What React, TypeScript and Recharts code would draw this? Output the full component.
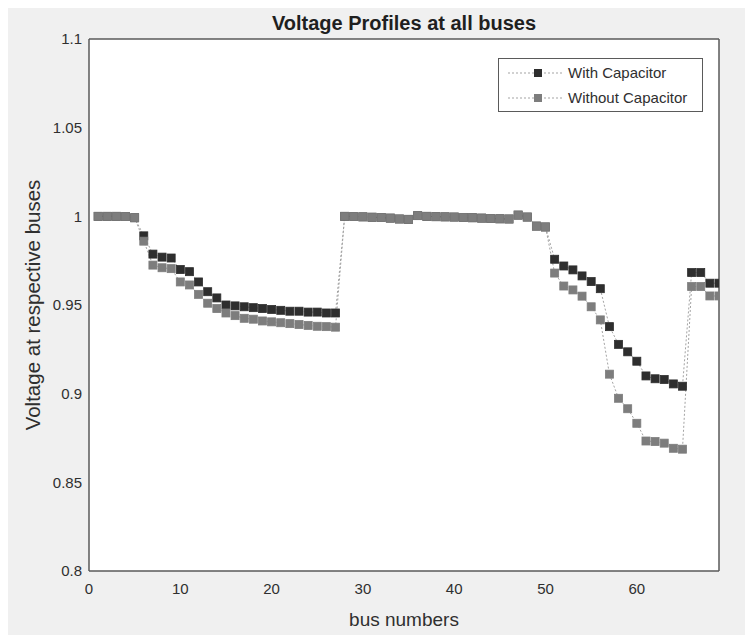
import React from "react";
import { LineChart, Line, XAxis, YAxis, CartesianGrid, Legend } from "recharts";

// bus index of the 69-bus feeder
const busNumbers = [
  1, 2, 3, 4, 5, 6, 7, 8, 9, 10, 11, 12, 13, 14, 15, 16, 17, 18, 19, 20, 21, 22, 23,
  24, 25, 26, 27, 28, 29, 30, 31, 32, 33, 34, 35, 36, 37, 38, 39, 40, 41, 42, 43, 44,
  45, 46, 47, 48, 49, 50, 51, 52, 53, 54, 55, 56, 57, 58, 59, 60, 61, 62, 63, 64, 65,
  66, 67, 68, 69,
];

const withCapacitor = [
  1.0, 1.0, 1.0, 0.9999, 0.9992, 0.989, 0.9787, 0.977, 0.9765, 0.97, 0.9688, 0.963,
  0.9575, 0.954, 0.95, 0.9495, 0.949, 0.9485, 0.948, 0.9475, 0.947, 0.9465, 0.9465,
  0.946, 0.946, 0.9455, 0.9455, 1.0, 0.9999, 0.9997, 0.9995, 0.9993, 0.999, 0.9985,
  0.9983, 1.0004, 1.0, 0.9998, 0.9997, 0.9996, 0.9994, 0.9992, 0.999, 0.9988, 0.9986,
  0.9985, 1.0007, 0.9996, 0.9945, 0.994, 0.9758, 0.972, 0.9698, 0.9664, 0.9632, 0.9592,
  0.9378, 0.9278, 0.9236, 0.9183, 0.91, 0.9084, 0.908, 0.9055, 0.9042, 0.9683, 0.9683,
  0.9623, 0.9623,
];

const withoutCapacitor = [
  1.0, 1.0, 1.0, 0.9999, 0.9992, 0.986, 0.9725, 0.971, 0.9705, 0.963, 0.9613, 0.956,
  0.951, 0.948, 0.9455, 0.944, 0.9425, 0.942, 0.941, 0.9405, 0.94, 0.9395, 0.939,
  0.9385, 0.938, 0.9378, 0.9375, 1.0, 0.9999, 0.9997, 0.9995, 0.9993, 0.999, 0.9985,
  0.9983, 1.0004, 1.0, 0.9998, 0.9997, 0.9996, 0.9994, 0.9992, 0.999, 0.9988, 0.9986,
  0.9985, 1.0007, 0.9996, 0.9945, 0.994, 0.968, 0.9607, 0.9585, 0.955, 0.949, 0.9416,
  0.911, 0.8974, 0.8915, 0.8833, 0.8733, 0.873, 0.8721, 0.8692, 0.8687, 0.9604, 0.9604,
  0.9551, 0.9551,
];

const xTicks = [0, 10, 20, 30, 40, 50, 60];
const yTicks = [0.8, 0.85, 0.9, 0.95, 1, 1.05, 1.1];

const data = busNumbers.map((bus, i) => ({
  bus,
  withCap: withCapacitor[i],
  withoutCap: withoutCapacitor[i],
}));

const FONT = '"Liberation Sans", Arial, Helvetica, sans-serif';
const AXIS = "#5a5a5a";
const TEXT = "#2f2f2f";
const DARK = "#2e2e2e";
const GRAY = "#7d7d7d";
const DOTTED = "#a3a3a3";

const square = (fill: string) => (props: any) => {
  const { cx, cy, index } = props;
  if (cx == null || cy == null) return <g key={index} />;
  return (
    <rect key={index} x={cx - 4} y={cy - 4} width={8} height={8} fill={fill} stroke={fill} strokeWidth={0.8} />
  );
};

const legendRows = [
  { name: "With Capacitor", color: DARK },
  { name: "Without Capacitor", color: GRAY },
];

function VoltageLegend() {
  return (
    <div
      style={{
        width: 205,
        height: 54,
        boxSizing: "border-box",
        border: `1.5px solid ${AXIS}`,
        background: "#fff",
        fontFamily: FONT,
        fontSize: 15,
        color: TEXT,
        paddingTop: 1,
      }}
    >
      {legendRows.map((r) => (
        <div key={r.name} style={{ display: "flex", alignItems: "center", height: 25 }}>
          <svg width={66} height={12}>
            <line x1={9} x2={63} y1={6} y2={6} stroke={DOTTED} strokeDasharray="2 2" />
            <rect x={35} y={2} width={8} height={8} fill={r.color} />
          </svg>
          <span style={{ marginLeft: 3, whiteSpace: "nowrap" }}>{r.name}</span>
        </div>
      ))}
    </div>
  );
}

const tickStyle = { fill: TEXT, fontSize: 15, fontFamily: FONT };

export default function App() {
  return (
    <div style={{ position: "relative", width: 745, height: 627, background: "#f0f0f0" }}>
      <div
        style={{
          position: "absolute",
          left: 81,
          width: 630,
          top: 6,
          lineHeight: "19px",
          textAlign: "center",
          fontFamily: FONT,
          fontWeight: "bold",
          fontSize: 20,
          color: "#1f1f1f",
        }}
      >
        Voltage Profiles at all buses
      </div>
      <LineChart width={745} height={627} data={data} margin={{ top: 31, right: 34, bottom: 34, left: 0 }}>
        <CartesianGrid fill="#ffffff" horizontal={false} vertical={false} />
        <XAxis
          dataKey="bus"
          type="number"
          domain={[0, 69]}
          ticks={xTicks}
          allowDataOverflow
          height={30}
          tickSize={0}
          tickMargin={12}
          tickLine={false}
          axisLine={{ stroke: AXIS, strokeWidth: 1.5 }}
          tick={tickStyle}
          label={(p: any) => {
            const vb = p.viewBox;
            return (
              <text x={vb.x + vb.width / 2} y={vb.y + 55} textAnchor="middle" fill={TEXT} fontSize={19} fontFamily={FONT}>
                bus numbers
              </text>
            );
          }}
        />
        <XAxis
          xAxisId="bm"
          orientation="bottom"
          mirror
          height={1}
          type="number"
          domain={[0, 69]}
          ticks={xTicks}
          allowDataOverflow
          tick={false}
          tickSize={5}
          axisLine={false}
          tickLine={{ stroke: AXIS }}
        />
        <XAxis
          xAxisId="top"
          orientation="top"
          mirror
          height={1}
          type="number"
          domain={[0, 69]}
          ticks={xTicks}
          allowDataOverflow
          tick={false}
          tickSize={5}
          axisLine={{ stroke: AXIS, strokeWidth: 1.5 }}
          tickLine={{ stroke: AXIS }}
        />
        <YAxis
          type="number"
          domain={[0.8, 1.1]}
          ticks={yTicks}
          allowDataOverflow
          width={81}
          tickSize={0}
          tickMargin={7}
          tickLine={false}
          axisLine={{ stroke: AXIS, strokeWidth: 1.5 }}
          tick={tickStyle}
          tickFormatter={(v: number) => String(v)}
          label={(p: any) => {
            const vb = p.viewBox;
            const cx = vb.x + 24;
            const cy = vb.y + vb.height / 2;
            return (
              <text
                x={cx}
                y={cy}
                transform={`rotate(-90, ${cx}, ${cy})`}
                textAnchor="middle"
                dominantBaseline="central"
                fill={TEXT}
                fontSize={20.5}
                fontFamily={FONT}
              >
                Voltage at respective buses
              </text>
            );
          }}
        />
        <YAxis
          yAxisId="lm"
          orientation="left"
          mirror
          width={1}
          type="number"
          domain={[0.8, 1.1]}
          ticks={yTicks}
          allowDataOverflow
          tick={false}
          tickSize={5}
          axisLine={false}
          tickLine={{ stroke: AXIS }}
        />
        <YAxis
          yAxisId="right"
          orientation="right"
          mirror
          width={1}
          type="number"
          domain={[0.8, 1.1]}
          ticks={yTicks}
          allowDataOverflow
          tick={false}
          tickSize={5}
          axisLine={{ stroke: AXIS, strokeWidth: 1.5 }}
          tickLine={{ stroke: AXIS }}
        />
        <Legend
          layout="vertical"
          align="center"
          verticalAlign="middle"
          content={() => <VoltageLegend />}
          wrapperStyle={{ position: "absolute", left: 490, top: 50, width: 205, height: 54 }}
        />
        <Line
          type="linear"
          dataKey="withCap"
          name="With Capacitor"
          stroke={DOTTED}
          strokeWidth={1}
          strokeDasharray="2 2"
          dot={square(DARK)}
          activeDot={false}
          isAnimationActive={false}
        />
        <Line
          type="linear"
          dataKey="withoutCap"
          name="Without Capacitor"
          stroke={DOTTED}
          strokeWidth={1}
          strokeDasharray="2 2"
          dot={square(GRAY)}
          activeDot={false}
          isAnimationActive={false}
        />
      </LineChart>
    </div>
  );
}
